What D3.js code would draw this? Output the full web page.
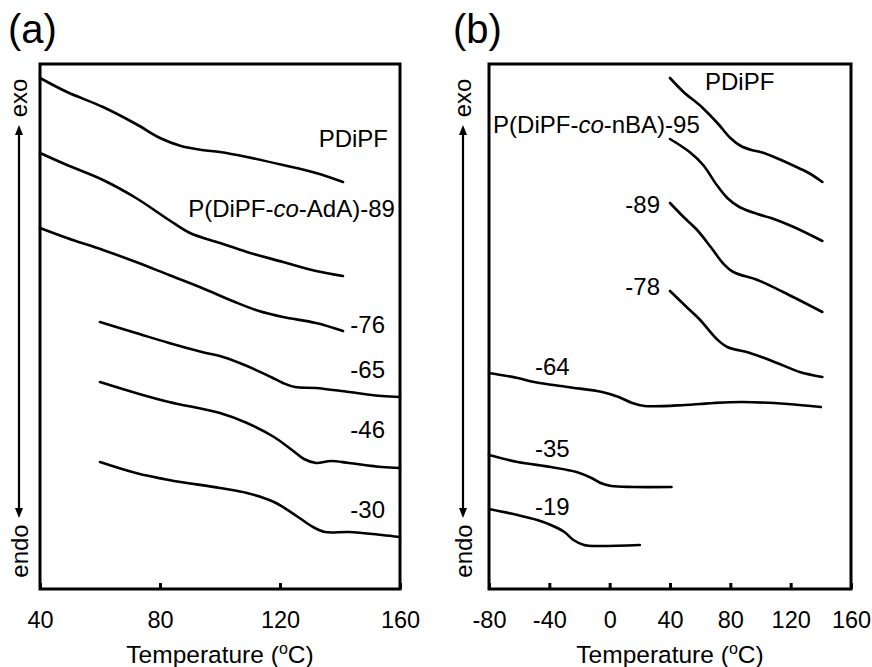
<!DOCTYPE html>
<html>
<head>
<meta charset="utf-8">
<script src="https://cdn.jsdelivr.net/npm/d3@7"></script>
<style>
  body { margin: 0; background: #fff; }
  svg { display: block; font-family: "Liberation Sans", Arial, sans-serif; }
</style>
</head>
<body>
<script>
// DSC traces, [temperature (oC), heat flow offset (a.u.)]
// panel (a): P(DiPF-co-AdA) series
const pdipf  = [[40,511],[49,497],[61,482],[72,465],[80,451],[87,443],[94,439],[100,437],[109,432],[121,424],[132,416],[141,407]];
const adA89  = [[40,436],[49,424],[61,409],[72,391],[83,369],[90,356],[100,346],[109,337],[121,327],[132,318],[141,313]];
const adA76  = [[40,361],[49,351],[61,339],[72,327],[83,314],[94,301],[105,287],[113,278],[121,272],[132,266],[141,258]];
const adA65  = [[60,267],[72,256],[83,246],[94,237],[101,232],[109,223],[117,212],[121,206],[125,202],[132,201],[143,197],[154,193],[160,192]];
const adA46  = [[60,207],[72,196],[83,187],[100,176],[109,166],[118,152],[124,139],[128,130],[132,126],[137,128],[143,126],[154,122],[160,121]];
const adA30  = [[60,127],[72,116],[83,109],[100,101],[109,96],[118,87],[126,72],[131,62],[135,57],[143,57],[154,54],[160,52]];

// panel (b): P(DiPF-co-nBA) series
const nBA95 = [[40,450],[53,437],[62,424],[71,404],[78,391],[86,382],[98,375],[107,371],[122,362],[141,348]];
const nBA89 = [[40,386],[49,372],[58,359],[67,342],[75,326],[82,317],[98,309],[115,297],[141,277]];
const nBA78 = [[40,298],[51,282],[60,269],[71,250],[78,242],[93,236],[111,226],[126,217],[141,212]];
const nBA64 = [[-80,216],[-61,211],[-50,207],[-28,202],[-5,197],[6,192],[15,186],[23,183],[50,184],[60,185],[69,186],[88,187],[118,185],[140,182]];
const nBA35 = [[-80,134],[-61,127],[-39,122],[-22,117],[-12,111],[-6,106],[1,103],[16,102],[41,102]];
const nBA19 = [[-80,80],[-61,74],[-48,69],[-39,64],[-30,57],[-24,49],[-17,44],[-8,43],[20,44]];

// tick labels
const ticksA = [40, 80, 120, 160];
const ticksB = [-80, -40, 0, 40, 80, 120, 160];

// curve labels (text parts: [string, italic?])
const namesA = [
  [["PDiPF", false]],
  [["P(DiPF-", false], ["co", true], ["-AdA)-89", false]],
  [["-76", false]], [["-65", false]], [["-46", false]], [["-30", false]]
];
const namesB = [
  [["PDiPF", false]],
  [["P(DiPF-", false], ["co", true], ["-nBA)-95", false]],
  [["-89", false]], [["-78", false]], [["-64", false]], [["-35", false]], [["-19", false]]
];

var width = 872, height = 667;
var top0 = 64, bottom0 = 589;

var svg = d3.select("body").append("svg")
    .attr("width", width)
    .attr("height", height);

var y = d3.scaleLinear().domain([0, 525]).range([bottom0, top0]);

function drawPanel(p) {
  var x = d3.scaleLinear().domain(p.domain).range(p.range);
  var g = svg.append("g");

  // bottom axis, ticks pointing in
  var axis = g.append("g")
      .attr("transform", "translate(0," + bottom0 + ")")
      .call(d3.axisBottom(x)
        .tickValues(p.ticks)
        .tickFormat(d => String(d))
        .tickSizeInner(-6)
        .tickSizeOuter(0)
        .tickPadding(22));
  axis.select(".domain").remove();
  axis.selectAll(".tick line").attr("stroke", "#000").attr("stroke-width", 3);
  axis.selectAll(".tick text")
      .attr("fill", "#000")
      .style("font-size", "23.5px")
      .style("font-family", "'Liberation Sans', Arial, sans-serif");

  // traces
  var line = d3.line()
      .x(d => x(d[0]))
      .y(d => y(d[1]))
      .curve(d3.curveCatmullRom.alpha(0.5));
  g.append("g")
    .selectAll("path")
    .data(p.series)
    .enter()
    .append("path")
    .attr("d", line)
    .attr("fill", "none")
    .attr("stroke", "#000")
    .attr("stroke-width", 2.6)
    .attr("stroke-linejoin", "round")
    .attr("stroke-linecap", "round");

  // frame
  g.append("rect")
    .attr("x", p.range[0])
    .attr("y", top0)
    .attr("width", p.range[1] - p.range[0])
    .attr("height", bottom0 - top0)
    .attr("fill", "none")
    .attr("stroke", "#000")
    .attr("stroke-width", 3);

  // curve labels
  p.names.forEach(function (parts, i) {
    var pos = p.labelPos[i];
    var t = g.append("text")
        .attr("x", x(pos[0]))
        .attr("y", y(pos[1]))
        .attr("text-anchor", pos[2])
        .style("font-size", "24px");
    parts.forEach(function (s) {
      t.append("tspan").text(s[0]).style("font-style", s[1] ? "italic" : "normal");
    });
  });

  // x title
  var title = g.append("text")
      .attr("x", (p.range[0] + p.range[1]) / 2)
      .attr("y", 663)
      .attr("text-anchor", "middle")
      .style("font-size", "24.5px");
  title.append("tspan").text("Temperature (");
  title.append("tspan").text("o").attr("dy", -9).style("font-size", "16px");
  title.append("tspan").text("C)").attr("dy", 9);

  // panel letter
  g.append("text")
    .attr("x", p.letterX)
    .attr("y", 43)
    .style("font-size", "40px")
    .text(p.letter);

  // exo / endo arrow
  var ax = p.arrowX;
  g.append("line")
    .attr("x1", ax).attr("x2", ax)
    .attr("y1", 132).attr("y2", 511)
    .attr("stroke", "#000").attr("stroke-width", 2.2);
  g.append("path")
    .attr("d", "M" + ax + ",125 L" + (ax - 4) + ",135 L" + (ax + 4) + ",135 Z")
    .attr("fill", "#000");
  g.append("path")
    .attr("d", "M" + ax + ",518 L" + (ax - 4) + ",508 L" + (ax + 4) + ",508 Z")
    .attr("fill", "#000");
  g.append("text")
    .attr("transform", "translate(" + (ax + 8) + ",98) rotate(-90)")
    .attr("text-anchor", "middle")
    .style("font-size", "24px")
    .text("exo");
  g.append("text")
    .attr("transform", "translate(" + (ax + 9) + ",551) rotate(-90)")
    .attr("text-anchor", "middle")
    .style("font-size", "24px")
    .text("endo");
}

drawPanel({
  domain: [40, 160], range: [40, 400],
  ticks: ticksA,
  series: [pdipf, adA89, adA76, adA65, adA46, adA30],
  names: namesA,
  labelPos: [[156, 442, "end"], [158.3, 372, "end"], [155, 256, "end"], [155, 211, "end"], [155, 151, "end"], [155, 71, "end"]],
  letter: "(a)", letterX: 8, arrowX: 19
});

drawPanel({
  domain: [-80, 160], range: [489, 851],
  ticks: ticksB,
  series: [pdipf, nBA95, nBA89, nBA78, nBA64, nBA35, nBA19],
  names: namesB,
  labelPos: [[63.2, 499, "start"], [-77.3, 456, "start"], [33.4, 376, "end"], [33.4, 294, "end"], [-49.5, 214, "start"], [-49.5, 132, "start"], [-49.5, 74, "start"]],
  letter: "(b)", letterX: 453, arrowX: 463
});
</script>
</body>
</html>
